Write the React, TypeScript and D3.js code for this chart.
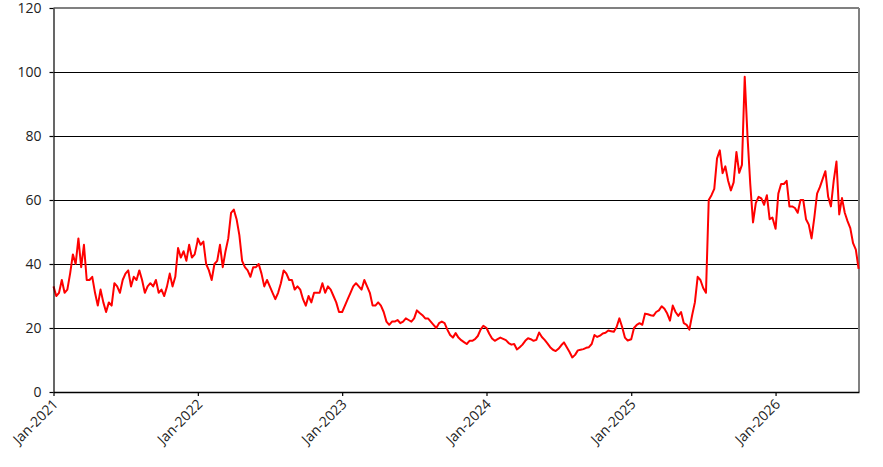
import * as d3 from "d3";
import { useEffect, useRef } from "react";

// weekly readings, each year starts on Jan 1
const values2021 = [33, 30, 31, 35, 31, 32, 37, 43, 40, 48, 39, 46, 35, 35, 36, 31, 27, 32, 28, 25, 28, 27, 34, 33, 31, 35, 37, 38, 33, 36, 35, 38, 35, 31, 33, 34, 33, 35, 31, 32, 30, 33, 37, 33, 36, 45, 42, 44, 41, 46, 42, 43, 47];
const values2022 = [48, 46, 47, 40, 38, 35, 40, 41, 46, 39, 44, 48, 56, 57, 54, 49, 41, 39, 38, 36, 39, 39, 40, 37, 33, 35, 33, 31, 29, 31, 34, 38, 37, 35, 35, 32, 33, 32, 29, 27, 30, 28, 31, 31, 31, 34, 31, 33, 32, 30, 28, 25];
const values2023 = [25, 27, 29, 31, 33, 34, 33, 32, 35, 33, 31, 27, 27, 28, 27, 25, 22, 21, 22, 22, 22.5, 21.5, 22, 23, 22.5, 22, 23, 25.5, 24.7, 24, 23, 23, 22, 21, 20, 21.5, 22, 21.5, 19.5, 17.8, 17, 18.4, 17, 16.2, 15.6, 15, 16, 16, 16.5, 17.5, 19.5, 20.7];
const values2024 = [20, 18.2, 16.7, 16, 16.5, 17, 16.6, 16.2, 15.3, 14.8, 15, 13.3, 14, 14.8, 16, 16.8, 16.5, 16, 16.3, 18.6, 17.2, 16.3, 15.2, 14, 13.2, 12.8, 13.5, 14.6, 15.5, 14, 12.5, 10.8, 11.6, 13, 13.2, 13.4, 13.8, 14, 15, 17.8, 17.2, 17.6, 18.3, 18.5, 19.2, 19, 18.8, 20.3, 23, 20.3, 17, 16.1];
const values2025 = [16.5, 20, 21, 21.5, 21, 24.5, 24.3, 24, 23.8, 25, 25.5, 26.8, 26, 24.5, 22.3, 27, 25, 23.8, 25, 21.5, 21, 19.5, 24, 28, 36, 35, 32.5, 31, 60, 61.5, 63.5, 73, 75.5, 68.4, 70.5, 66, 63, 65.5, 75, 68.5, 71, 98.5, 80, 65, 53, 59, 61, 60.5, 58.5, 61.5, 54, 54.5];
const values2026 = [51, 62, 65, 65, 66, 58, 58, 57.5, 56, 60, 60, 54, 52.3, 48, 54.5, 62, 64, 66.5, 69, 61, 58, 66, 72, 55.5, 60.6, 56, 53.4, 51.2, 46.5, 44.5, 38.5];

const years = [2021, 2022, 2023, 2024, 2025, 2026];
const yTicks = [0, 20, 40, 60, 80, 100, 120];

const data = [values2021, values2022, values2023, values2024, values2025, values2026]
  .flatMap((vals, i) => vals.map((v, k) => ({ date: new Date(years[i], 0, 1 + 7 * k), value: v })));

const font = "'Open Sans', 'Noto Sans', sans-serif";

export default function App() {
  const width = 883;
  const height = 467;
  const marginLeft = 53.5;
  const marginRight = 24;
  const marginTop = 8;
  const marginBottom = 75;

  const axisx: any = useRef();
  const axisy: any = useRef();

  const x: any = d3.scaleTime(
    [new Date(2021, 0, 1), new Date(2026, 6, 31)],
    [marginLeft, width - marginRight]);

  const y: any = d3.scaleLinear(
    [0, 120],
    [height - marginBottom, marginTop]);

  const line = d3.line<any>()
    .x(d => x(d.date))
    .y(d => y(d.value));

  useEffect(() => {
    void d3.select(axisx.current)
      .call(d3.axisBottom(x)
        .tickValues(years.map(yr => new Date(yr, 0, 1)))
        .tickFormat(d3.timeFormat("%b-%Y") as any)
        .tickSize(4)
        .tickSizeOuter(0))
      .call(g => g.select(".domain").attr("stroke", "#000").attr("stroke-width", 1.5))
      .call(g => g.selectAll(".tick line").attr("stroke", "#000").attr("stroke-width", 1.2))
      .call(g => g.selectAll(".tick text")
        .attr("fill", "#222")
        .style("font-size", "14px")
        .style("font-family", font)
        .attr("text-anchor", "end")
        .attr("x", 0)
        .attr("y", 0)
        .attr("dy", 0)
        .attr("transform", "translate(5, 13) rotate(-45)"))
    void d3.select(axisy.current)
      .call(d3.axisLeft(y).tickValues(yTicks).tickSize(4).tickSizeOuter(0))
      .call(g => g.select(".domain").attr("stroke", "#000").attr("stroke-width", 1.2))
      .call(g => g.selectAll(".tick line").attr("stroke", "#000").attr("stroke-width", 1.2))
      .call(g => g.selectAll(".tick text")
        .attr("fill", "#222")
        .style("font-size", "14px")
        .style("font-family", font)
        .attr("x", -12))
  }, [x, y])

  return (
    <svg
      width={width}
      height={height}
      style={{ position: "absolute", left: 0, top: 0, background: "#fff" }}>
      <g stroke="#000" strokeWidth="1" shapeRendering="crispEdges">
        {yTicks.slice(1, -1).map(t => (
          <line key={t} x1={marginLeft} x2={width - marginRight} y1={y(t)} y2={y(t)} />
        ))}
      </g>
      <line x1={marginLeft} x2={width - marginRight} y1={marginTop} y2={marginTop}
        stroke="#808080" strokeWidth="1.8" />
      <line x1={width - marginRight} x2={width - marginRight} y1={marginTop} y2={height - marginBottom}
        stroke="#808080" strokeWidth="2" />
      <path
        fill="none"
        stroke="#ff0000"
        strokeWidth="2"
        strokeLinejoin="round"
        d={line(data) as string} />
      <g
        ref={axisx}
        transform={`translate(0, ${height - marginBottom})`}
      />
      <g
        ref={axisy}
        transform={`translate(${marginLeft}, 0)`}
      />
    </svg>
  )
}
